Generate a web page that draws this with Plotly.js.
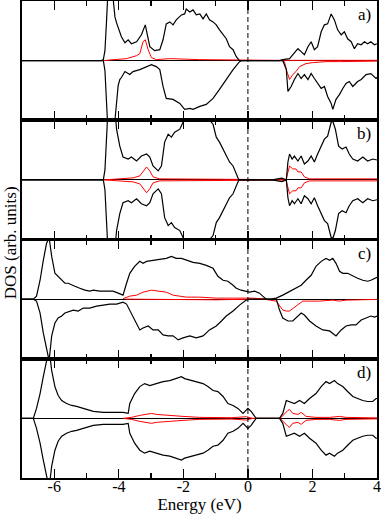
<!DOCTYPE html>
<html>
<head>
<meta charset="utf-8">
<script src="https://cdn.plot.ly/plotly-3.0.1.min.js"></script>
<style>
  html, body { margin: 0; padding: 0; background: #fff; }
  #dos { width: 381px; height: 517px; }
</style>
</head>
<body>
<div id="dos"></div>
<script>
// DOS panels a) - d), spin up (positive) and spin down (negative)

// panel a
var aUpE   = [-7, -4.54, -4.48, -4.43, -4.38, -4.33, -4.23, -4.12, -4.07, -4.02, -3.92, -3.81, -3.71, -3.61, -3.45, -3.30, -3.18, -3.04, -2.89, -2.73, -2.63, -2.53, -2.42, -2.32, -2.22, -2.06, -1.96, -1.91, -1.80, -1.70, -1.60, -1.49, -1.39, -1.29, -1.19, -1.08, -0.98, -0.88, -0.77, -0.67, -0.57, -0.46, -0.36, -0.26, 0.98, 1.08, 1.29, 1.39, 1.55, 1.65, 1.75, 1.86, 1.96, 2.06, 2.16, 2.27, 2.37, 2.47, 2.58, 2.68, 2.78, 2.89, 2.99, 3.09, 3.20, 3.30, 3.40, 3.51, 3.61, 3.71, 3.81, 3.92, 4];
var aUpTot = [0, 0, 1, 10, 40, 75, 80, 44, 38, 34, 24, 18, 21, 17, 19, 26, 36, 14, 10, 11, 21, 37, 39, 36, 41, 46, 47, 52, 49, 51, 46, 47, 42, 47, 41, 39, 36, 31, 26, 22, 14, 11, 4, 0, 0, 1, 2, 6, 12, 9, 6, 14, 19, 11, 14, 29, 36, 37, 47, 41, 31, 26, 29, 22, 19, 12, 17, 16, 19, 17, 19, 16, 17];
var aDnE   = [-7, -4.48, -4.43, -4.38, -4.33, -4.18, -4.12, -4.02, -3.97, -3.92, -3.81, -3.66, -3.56, -3.35, -3.14, -2.99, -2.84, -2.73, -2.63, -2.53, -2.32, -2.11, -1.96, -1.80, -1.70, -1.49, -1.29, -1.08, -0.88, -0.67, -0.46, -0.26, -0.2, 1.08, 1.19, 1.24, 1.34, 1.44, 1.55, 1.65, 1.75, 1.86, 1.96, 2.06, 2.16, 2.27, 2.37, 2.47, 2.58, 2.63, 2.73, 2.84, 2.94, 3.04, 3.14, 3.25, 3.40, 3.51, 3.66, 3.81, 3.97, 4];
var aDnTot = [0, 0, -10, -40, -75, -70, -60, -25, -19, -17, -11, -14, -11, -9, -6, -4, -6, -9, -26, -38, -39, -43, -49, -48, -49, -46, -44, -38, -29, -19, -9, -1, 0, 0, -9, -31, -26, -19, -13, -18, -14, -19, -13, -18, -23, -28, -26, -36, -43, -49, -39, -34, -28, -23, -21, -26, -21, -19, -14, -13, -18, -17];
var aUpPE  = [-4.5, -3.76, -3.45, -3.35, -3.25, -3.18, -3.09, -2.99, -2.84, -2.42, -1.49, -0.26, 0.9, 4];
var aUpP   = [0, 2, 5, 7, 19, 21, 11, 3, 1, 2, 1, 0.5, 0.3, 0.3];
var aDnPE  = [1.05, 1.13, 1.21, 1.29, 1.39, 1.49, 1.60, 1.80, 2.01, 2.42, 2.84, 3.66, 4];
var aDnP   = [0, -1, -11, -19, -14, -11, -6, -3, -2, -1, -1, -0.5, -0.5];

// panel b (up and down mirror each other)
var bE   = [-7, -4.48, -4.43, -4.38, -4.33, -4.12, -4.07, -3.97, -3.87, -3.71, -3.61, -3.45, -3.30, -3.14, -3.04, -2.94, -2.78, -2.68, -2.58, -2.47, -2.37, -2.27, -2.11, -2.01, -1.91, -1.49, -1.24, -1.08, -0.98, -0.88, -0.77, -0.67, -0.57, -0.46, -0.36, -0.28, 0.75, 0.85, 0.95, 1.05, 1.15, 1.19, 1.24, 1.29, 1.37, 1.44, 1.55, 1.65, 1.75, 1.86, 1.96, 2.06, 2.16, 2.27, 2.37, 2.47, 2.58, 2.63, 2.71, 2.81, 2.92, 3.04, 3.14, 3.25, 3.40, 3.56, 3.71, 3.87, 4];
var bTot = [0, 0, 10, 45, 75, 70, 51, 34, 23, 21, 23, 19, 24, 26, 23, 14, 9, 14, 38, 46, 43, 48, 51, 58, 63, 66, 62, 56, 43, 38, 31, 26, 18, 14, 6, 0, 0, 0.8, 1.5, 1.8, 0.5, 0, 18, 26, 21, 24, 19, 24, 16, 19, 24, 18, 26, 34, 41, 44, 58, 59, 51, 34, 31, 33, 26, 21, 19, 23, 19, 21, 20];
var bPE  = [-4.45, -3.56, -3.35, -3.25, -3.14, -3.04, -2.94, -2.73, -1.5, -0.3, 1.19, 1.21, 1.29, 1.39, 1.49, 1.55, 1.65, 1.75, 1.91, 3, 4];
var bP   = [0, 2, 4, 8, 13, 9, 3, 1, 1, 0.5, 0, 4, 14, 11, 11, 8, 8, 3, 1, 1, 1];

// panel c
var cUpE   = [-7, -6.65, -6.55, -6.44, -6.34, -6.24, -6.16, -6.08, -5.98, -5.88, -5.77, -5.67, -5.57, -5.46, -5.36, -5.21, -5.05, -4.90, -4.79, -4.59, -4.38, -4.18, -4.02, -3.87, -3.76, -3.66, -3.51, -3.35, -3.25, -3.14, -2.94, -2.73, -2.53, -2.37, -2.22, -2.06, -1.91, -1.70, -1.49, -1.29, -1.08, -0.93, -0.77, -0.62, -0.46, -0.36, -0.21, -0.05, 0.05, 0.21, 0.36, 0.46, 0.57, 0.72, 0.88, 1.08, 1.29, 1.49, 1.65, 1.80, 1.96, 2.11, 2.27, 2.42, 2.53, 2.63, 2.73, 2.84, 2.94, 3.09, 3.25, 3.40, 3.56, 3.71, 3.81, 3.92, 4];
var cUpTot = [0, 0, 3, 19, 39, 56, 62, 43, 26, 23, 19, 16, 16, 14, 13, 11, 9, 8, 9, 8, 8, 8, 6, 4, 16, 26, 33, 38, 36, 38, 39, 40, 41, 43, 41, 41, 39, 37, 36, 34, 31, 23, 19, 18, 14, 11, 9, 8, 7, 8, 6, 3, 0, 0, 1, 4, 8, 11, 14, 19, 24, 33, 38, 41, 39, 41, 36, 28, 26, 26, 23, 21, 19, 18, 19, 21, 22];
var cDnE   = [-7, -6.65, -6.55, -6.44, -6.34, -6.24, -6.16, -6.08, -5.98, -5.88, -5.77, -5.67, -5.52, -5.41, -5.26, -5.10, -4.90, -4.69, -4.48, -4.28, -4.07, -3.87, -3.76, -3.61, -3.45, -3.35, -3.25, -3.09, -2.94, -2.78, -2.63, -2.47, -2.32, -2.16, -2.01, -1.80, -1.60, -1.39, -1.19, -0.98, -0.82, -0.67, -0.46, -0.26, -0.05, 0.03, 0.88, 0.98, 1.08, 1.24, 1.39, 1.55, 1.65, 1.75, 1.91, 2.11, 2.32, 2.53, 2.73, 2.89, 3.04, 3.20, 3.35, 3.51, 3.66, 3.81, 3.92, 4];
var cDnTot = [0, 0, -2, -14, -34, -52, -62, -37, -24, -19, -17, -14, -12, -11, -12, -9, -9, -7, -6, -5, -5, -3, -5, -14, -24, -31, -29, -27, -31, -31, -36, -37, -37, -41, -39, -37, -39, -37, -31, -27, -22, -17, -12, -6, -1, 0, 0, -11, -19, -22, -22, -17, -14, -16, -22, -27, -31, -32, -37, -31, -27, -26, -26, -21, -19, -17, -18, -17];
var cUpPE  = [-3.87, -3.66, -3.45, -3.25, -2.99, -2.73, -2.53, -2.32, -2.11, -1.91, -1.49, -0.98, -0.46, -0.05, 0.10, 0.46, 0.6];
var cUpP   = [0.5, 3, 4, 7, 9, 8, 7, 4, 3, 2, 2, 1, 1, 1.3, 1, 0.3, 0];
var cDnPE  = [-3.8, -2, -1.49, -0.98, -0.3, 0.5, 0.88, 0.98, 1.08, 1.19, 1.29, 1.37, 1.55, 1.70, 1.91, 2.22, 2.63, 2.84, 3.04, 3.66, 4];
var cDnP   = [0, -0.5, -1, -0.7, -0.3, 0, -2, -7, -11, -12, -12, -10, -6, -2, -2, -2, -1, -2, -1, -0.3, -0.3];

// panel d (up and down mirror each other)
var dE   = [-7, -6.65, -6.55, -6.44, -6.34, -6.24, -6.16, -6.08, -5.98, -5.88, -5.77, -5.62, -5.46, -5.31, -5.10, -4.95, -4.79, -4.48, -4.18, -3.87, -3.71, -3.66, -3.51, -3.35, -3.20, -3.04, -2.84, -2.63, -2.42, -2.22, -2.06, -1.96, -1.75, -1.55, -1.39, -1.24, -1.08, -0.93, -0.77, -0.62, -0.46, -0.31, -0.15, 0.0, 0.10, 0.21, 0.26, 0.98, 1.08, 1.19, 1.29, 1.44, 1.60, 1.75, 1.91, 2.11, 2.27, 2.42, 2.53, 2.68, 2.78, 2.94, 3.09, 3.25, 3.40, 3.56, 3.71, 3.87, 3.97, 4];
var dTot = [0, 0, 10, 25, 42, 58, 70, 48, 32, 23, 18, 15, 13, 12, 10, 8, 7, 6, 6, 6, 5, 15, 25, 32, 35, 33, 35, 37, 38, 40, 42, 40, 38, 36, 35, 32, 28, 27, 22, 15, 13, 10, 5, 10, 7, 2, 0, 0, 5, 18, 17, 15, 18, 15, 20, 25, 32, 37, 35, 38, 35, 32, 27, 22, 20, 18, 17, 17, 20, 20];
var dPE  = [-3.87, -3.61, -3.35, -3.14, -2.99, -2.84, -2.53, -2.01, -1.49, -0.5, -0.05, 0.15, 1.0, 1.08, 1.24, 1.29, 1.39, 1.55, 1.65, 1.80, 2.11, 2.53, 2.84, 3.04, 4];
var dP   = [0, 1, 3, 4, 5, 4, 3, 2, 1, 0.7, 1.7, 0, 0, 3, 8, 9, 5, 4, 6, 2, 1, 1, 2, 1, 0.5];

var tickVals = [-6, -4, -2, 0, 2, 4];
var tickText = ['-6', '-4', '-2', '0', '2', '4'];
var minorVals = [-7, -5, -3, -1, 1, 3];

function neg(arr) { return arr.map(function (v) { return -v; }); }

function line(x, y, color, width, ax) {
    return {
        x: x, y: y,
        mode: 'lines', type: 'scatter',
        line: {color: color, width: width, shape: 'linear'},
        xaxis: 'x' + ax, yaxis: 'y' + ax,
        hoverinfo: 'skip'
    };
}

// panels from bottom: '' = d, 2 = c, 3 = b, 4 = a ; red drawn under black
var data = [
    line(aUpPE, aUpP, '#ff0000', 1, '4'),
    line(aDnPE, aDnP, '#ff0000', 1, '4'),
    line(aUpE, aUpTot, '#000', 1.2, '4'),
    line(aDnE, aDnTot, '#000', 1.2, '4'),
    line(bPE, bP, '#ff0000', 1, '3'),
    line(bPE, neg(bP), '#ff0000', 1, '3'),
    line(bE, bTot, '#000', 1.2, '3'),
    line(bE, neg(bTot), '#000', 1.2, '3'),
    line(cUpPE, cUpP, '#ff0000', 1, '2'),
    line(cDnPE, cDnP, '#ff0000', 1, '2'),
    line(cUpE, cUpTot, '#000', 1.2, '2'),
    line(cDnE, cDnTot, '#000', 1.2, '2'),
    line(dPE, dP, '#ff0000', 1, ''),
    line(dPE, neg(dP), '#ff0000', 1, ''),
    line(dE, dTot, '#000', 1.2, ''),
    line(dE, neg(dTot), '#000', 1.2, '')
];

var serif = 'Liberation Serif, Times New Roman, serif';

function xAx(anchor, labels) {
    return {
        anchor: anchor,
        domain: [0, 1],
        range: [-7, 4],
        showgrid: false, zeroline: false,
        showline: true, linecolor: '#000', linewidth: 1.8, mirror: 'allticks',
        ticks: 'inside', ticklen: 9, tickwidth: 1.2, tickcolor: '#000',
        tickmode: 'array', tickvals: tickVals, ticktext: tickText,
        showticklabels: labels,
        ticklabeloverflow: 'allow',
        ticklabelstandoff: -7,
        tickfont: {family: serif, size: 16, color: '#000'},
        minor: {tickmode: 'array', tickvals: minorVals, ticks: 'inside', ticklen: 5, tickwidth: 1.2, tickcolor: '#000', showgrid: false}
    };
}

function yAx(anchor, dom) {
    return {
        anchor: anchor,
        domain: dom,
        range: [-60, 60],
        showgrid: false,
        showline: true, linecolor: '#000', linewidth: 1.8, mirror: true,
        ticks: '', showticklabels: false,
        zeroline: true, zerolinecolor: '#000', zerolinewidth: 1.2
    };
}

var xMain = xAx('y', true);
xMain.title = {text: 'Energy (eV)', font: {family: serif, size: 17, color: '#000'}, standoff: 0};

var labels = ['d)', 'c)', 'b)', 'a)'];
var yRefs = ['y', 'y2', 'y3', 'y4'];

var layout = {
    width: 381, height: 517,
    margin: {l: 22, r: 4, t: 1, b: 39},
    paper_bgcolor: '#fff', plot_bgcolor: '#fff',
    showlegend: false,
    xaxis: xMain,
    xaxis2: xAx('y2', false),
    xaxis3: xAx('y3', false),
    xaxis4: xAx('y4', false),
    yaxis: yAx('x', [0, 0.25]),
    yaxis2: yAx('x2', [0.25, 0.5]),
    yaxis3: yAx('x3', [0.5, 0.75]),
    yaxis4: yAx('x4', [0.75, 1]),
    shapes: [{
        type: 'line', xref: 'x', yref: 'paper',
        x0: 0, x1: 0, y0: 0, y1: 1,
        line: {color: '#000', width: 1, dash: '5px,3px'}
    }],
    annotations: labels.map(function (t, i) {
        return {
            text: t, xref: 'paper', yref: yRefs[i] + ' domain',
            x: 1, y: 1, xanchor: 'right', yanchor: 'top',
            xshift: -4, yshift: -2, showarrow: false,
            font: {family: serif, size: 17, color: '#000'}
        };
    }).concat([{
        text: 'DOS (arb. units)', xref: 'paper', yref: 'paper',
        x: -0.034, y: 0.494, xanchor: 'center', yanchor: 'middle',
        textangle: -90, showarrow: false,
        font: {family: serif, size: 17, color: '#000'}
    }])
};

Plotly.newPlot('dos', data, layout, {staticPlot: true});
</script>
</body>
</html>
